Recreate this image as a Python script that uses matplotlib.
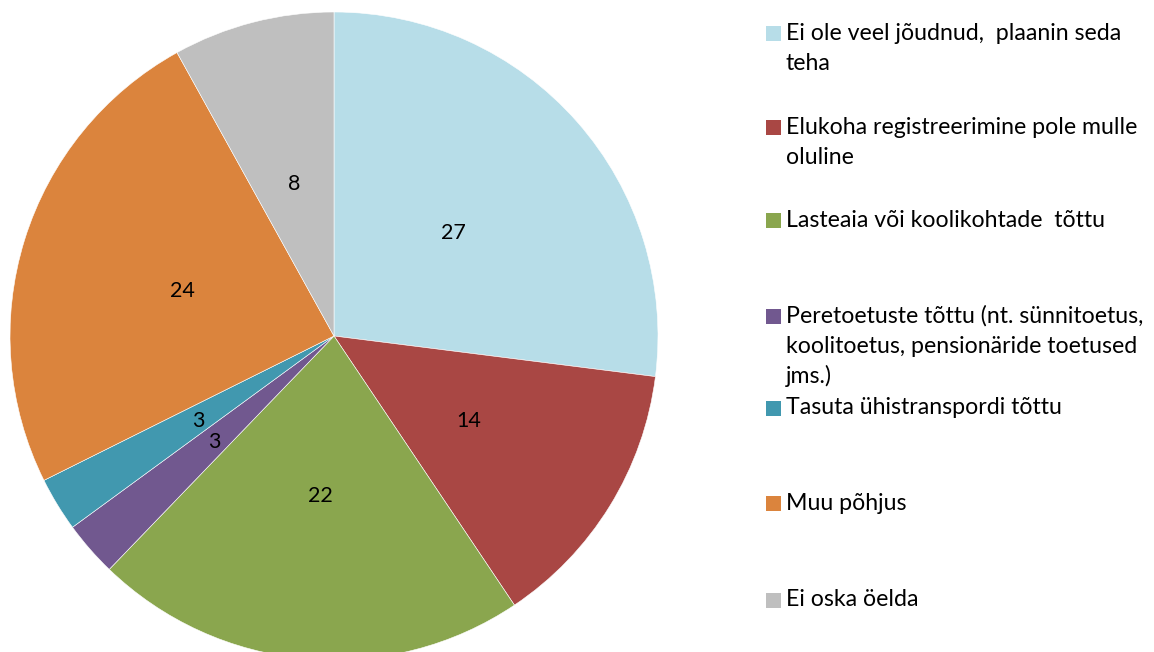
import matplotlib
matplotlib.use("Agg")
import matplotlib.pyplot as plt
from matplotlib.patches import Rectangle

categories = [
    "Ei ole veel jõudnud,  plaanin seda\nteha",
    "Elukoha registreerimine pole mulle\noluline",
    "Lasteaia või koolikohtade  tõttu",
    "Peretoetuste tõttu (nt. sünnitoetus,\nkoolitoetus, pensionäride toetused\njms.)",
    "Tasuta ühistranspordi tõttu",
    "Muu põhjus",
    "Ei oska öelda",
]
values = [27.0, 13.6, 21.6, 2.75, 2.7, 24.3, 8.05]
colors = ["#B7DDE8", "#A94744", "#8AA64E", "#71588F", "#4198AF", "#DB843D", "#BFBFBF"]

plt.rcParams['font.family'] = ['Lato', 'DejaVu Sans']

W, H = 1154, 652
fig = plt.figure(figsize=(W / 100, H / 100), dpi=100)

cx, cy, r = 334, 336, 324
ax = fig.add_axes([(cx - r) / W, (H - cy - r) / H, 2 * r / W, 2 * r / H])
wedges, texts = ax.pie(values, colors=colors, startangle=90, counterclock=False,
                       labels=[f"{v:.0f}" for v in values], labeldistance=0.49,
                       radius=1.0, wedgeprops=dict(linewidth=0.4, edgecolor="white"),
                       textprops=dict(fontsize=15.5, color="black"))
for t in texts:
    t.set_ha("center")
    t.set_va("center_baseline")
ax.set_xlim(-1, 1)
ax.set_ylim(-1, 1)
ax.set_aspect("equal")
ax.axis("off")

# legend (manual layout)
first_line_y = [33, 127, 220, 316, 408, 503, 600]
line_step = 30
for lab, col, y0 in zip(categories, colors, first_line_y):
    fig.patches.append(Rectangle((766 / W, 1 - (y0 + 8) / H), 15 / W, 15 / H,
                                 transform=fig.transFigure, facecolor=col, edgecolor="none"))
    for i, line in enumerate(lab.split("\n")):
        fig.text(786 / W, 1 - (y0 + i * line_step) / H, line, fontsize=16.7,
                 ha="left", va="center", color="black")

fig.savefig("out.png", dpi=100)
